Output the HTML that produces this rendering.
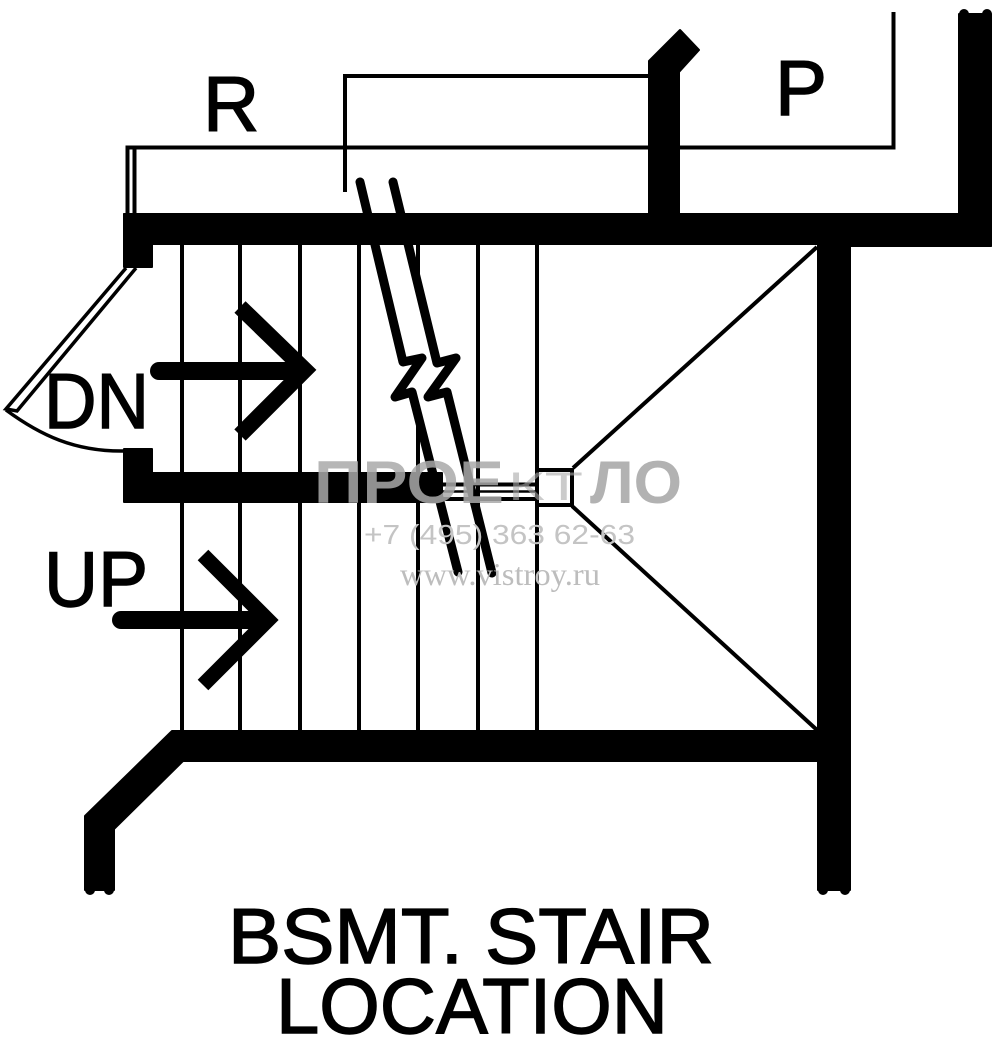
<!DOCTYPE html>
<html><head><meta charset="utf-8"><style>html,body{margin:0;padding:0;background:#fff}svg{display:block}</style></head>
<body>
<svg xmlns="http://www.w3.org/2000/svg" width="1000" height="1038" viewBox="0 0 1000 1038">
<rect width="1000" height="1038" fill="#fff"/>
<g stroke="#000" stroke-width="4" fill="none">
<path d="M182 245V732M240 245V732M300 245V732M359 245V732M478 245V732M537 245V732M418 245V276M418 423V732"/>
<path d="M345 192V76H650M127.500 213V147.500H893.500V12M134.500 213V149"/>
<path d="M573 468L817 247M572 506L817 730"/>
<rect x="537" y="470" width="35" height="35"/>
<path d="M442 484.500H537M442 499H537" stroke-width="4"/>
<path d="M442 491.500H537" stroke-width="2.500"/>
<path d="M126 268L6 409L17 411L136 268" stroke-width="3.500"/>
<path d="M6 410C40 435 75 452 125 451" stroke-width="3.500"/>
</g>
<g fill="#000" stroke="#000" stroke-width="2" stroke-linejoin="round">
<rect x="124" y="214" width="867" height="30"/>
<rect x="818" y="214" width="173" height="32"/>
<rect x="959" y="14" width="32" height="232"/>
<rect x="124" y="214" width="28" height="53"/>
<path d="M124 449H152V473H442V502H124Z"/>
<path d="M649 61L680 30L699 50L679 72V214H649Z"/>
<rect x="818" y="245" width="32" height="645"/>
<path d="M172 731H818V761H183L114 829V890H85V816Z"/>
</g>
<g fill="#000">
<circle cx="964" cy="14" r="5"/><circle cx="987" cy="14" r="5"/>
<circle cx="90" cy="890" r="5"/><circle cx="109" cy="890" r="5"/>
<circle cx="823" cy="890" r="5"/><circle cx="845" cy="890" r="5"/>
</g>
<g stroke="#000" stroke-width="9" fill="none" stroke-linecap="round" stroke-linejoin="round">
<path d="M360 182L403 362L422 358L395 397L412 392L458 572"/>
<path d="M393 182L437 363L456 358L428 397L447 392L492 573"/>
</g>
<g stroke="#000" fill="none">
<path d="M159 371H302" stroke-width="18" stroke-linecap="round"/>
<path d="M240 307L305 370L240 435" stroke-width="16"/>
<path d="M121 620H262" stroke-width="18" stroke-linecap="round"/>
<path d="M203 555L268 620L203 685" stroke-width="15"/>
</g>
<g font-family="'Liberation Sans',sans-serif" font-size="78" fill="#000" stroke="#000" stroke-width="1.400">
<text x="203" y="131">R</text>
<text x="775" y="115">P</text>
<text x="44" y="428" textLength="105" lengthAdjust="spacingAndGlyphs">DN</text>
<text x="44" y="606" textLength="104" lengthAdjust="spacingAndGlyphs">UP</text>
<text x="228" y="963" textLength="486" lengthAdjust="spacingAndGlyphs">BSMT. STAIR</text>
<text x="276" y="1033" textLength="392" lengthAdjust="spacingAndGlyphs">LOCATION</text>
</g>
<g fill="#aaa" font-family="'Liberation Sans','DejaVu Sans',sans-serif">
<text x="314" y="503" font-size="60" font-weight="bold" opacity=".85" textLength="190" lengthAdjust="spacingAndGlyphs">ПРОЕ</text>
<text x="508" y="500" font-size="40" opacity=".6" textLength="75" lengthAdjust="spacingAndGlyphs">КТ</text>
<text x="590" y="503" font-size="60" font-weight="bold" opacity=".9" textLength="92" lengthAdjust="spacingAndGlyphs">ЛО</text>
<text x="364" y="544" font-size="28" fill="#c4c4c4" textLength="271" lengthAdjust="spacingAndGlyphs">+7 (495) 363 62-63</text>
<text x="400" y="585" font-size="32" fill="#bdbdbd" font-family="'Liberation Serif',serif" textLength="200" lengthAdjust="spacingAndGlyphs">www.vistroy.ru</text>
</g>
</svg>
</body></html>
